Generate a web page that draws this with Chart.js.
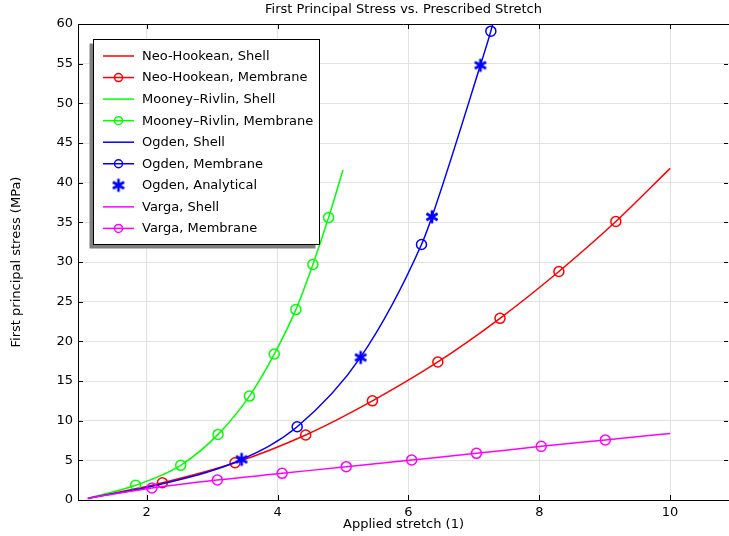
<!DOCTYPE html>
<html>
<head>
<meta charset="utf-8">
<title>First Principal Stress vs. Prescribed Stretch</title>
<script src="https://cdn.jsdelivr.net/npm/chart.js@4"></script>
<style>
  html, body { margin: 0; padding: 0; background: #fff; }
  #chart { display: block; }
</style>
</head>
<body>
<canvas id="chart" width="729" height="536"></canvas>
<script>
// values
const neoShellX = [1.1, 2.24, 3.35, 4.43, 5.45, 6.45, 7.40, 8.30, 9.17, 10];
const neoShellY = [0.2, 2.18, 4.7, 8.2, 12.5, 17.4, 22.9, 28.8, 35.1, 41.8];
const neoMemX = [2.24, 3.35, 4.43, 5.45, 6.45, 7.40, 8.30, 9.17];
const neoMemY = [2.18, 4.7, 8.2, 12.5, 17.4, 22.9, 28.8, 35.1];

const mrShellX = [1.1, 1.83, 2.52, 3.09, 3.57, 3.95, 4.28, 4.54, 4.78, 5.0];
const mrShellY = [0.2, 1.85, 4.37, 8.27, 13.1, 18.4, 24.0, 29.7, 35.6, 41.6];
const mrMemX = [1.83, 2.52, 3.09, 3.57, 3.95, 4.28, 4.54, 4.78];
const mrMemY = [1.85, 4.37, 8.27, 13.1, 18.4, 24.0, 29.7, 35.6];

const ogShellX = [1.1, 2.2, 3.45, 4.30, 5.27, 6.20, 6.36, 7.10, 7.26, 7.32];
const ogShellY = [0.2, 1.95, 5.1, 9.23, 18.0, 32.2, 35.7, 54.8, 59.1, 61];
const ogMemX = [4.30, 6.20, 7.26];
const ogMemY = [9.23, 32.2, 59.1];
const ogAnaX = [3.45, 5.27, 6.36, 7.10];
const ogAnaY = [5.12, 17.97, 35.7, 54.8];

const vaShellX = [1.1, 2.08, 3.08, 4.07, 5.05, 6.05, 7.04, 8.03, 9.01, 10];
const vaShellY = [0.2, 1.51, 2.52, 3.36, 4.2, 5.04, 5.88, 6.76, 7.56, 8.39];
const vaMemX = [2.08, 3.08, 4.07, 5.05, 6.05, 7.04, 8.03, 9.01];
const vaMemY = [1.51, 2.52, 3.36, 4.2, 5.04, 5.88, 6.76, 7.56];

const FONT = "'DejaVu Sans', Verdana, sans-serif";
const RED = "#ff0000", GREEN = "#00ff00", BLUE = "#0000ff", MAGENTA = "#ff00ff";

function pts(xs, ys) {
  return xs.map((x, i) => ({ x: x, y: ys[i] }));
}

// six-spoke asterisk marker
function makeStar(color, r, w) {
  const c = document.createElement("canvas");
  const s = Math.ceil(2 * r + w + 2);
  c.width = s;
  c.height = s;
  const g = c.getContext("2d");
  g.strokeStyle = color;
  g.lineWidth = w;
  g.translate(s / 2, s / 2);
  g.beginPath();
  for (let k = 0; k < 3; k++) {
    const a = Math.PI / 2 + k * Math.PI / 3;
    g.moveTo(r * Math.cos(a), r * Math.sin(a));
    g.lineTo(-r * Math.cos(a), -r * Math.sin(a));
  }
  g.stroke();
  return c;
}
const star = makeStar(BLUE, 6.5, 2.6);

function shell(label, xs, ys, color, order) {
  return {
    label: label,
    data: pts(xs, ys),
    borderColor: color,
    borderWidth: 1.5,
    pointRadius: 0,
    fill: false,
    cubicInterpolationMode: "monotone",
    order: order,
  };
}

function membrane(label, xs, ys, color, order) {
  return {
    label: label,
    data: pts(xs, ys),
    borderColor: color,
    backgroundColor: "rgba(0,0,0,0)",
    showLine: false,
    pointStyle: "circle",
    pointRadius: 5,
    pointBorderWidth: 1.5,
    pointBorderColor: color,
    pointBackgroundColor: "rgba(0,0,0,0)",
    order: order,
  };
}

const legendRows = [
  { text: "Neo-Hookean, Shell", color: RED, line: true, mark: null },
  { text: "Neo-Hookean, Membrane", color: RED, line: true, mark: "circle" },
  { text: "Mooney\u2013Rivlin, Shell", color: GREEN, line: true, mark: null },
  { text: "Mooney\u2013Rivlin, Membrane", color: GREEN, line: true, mark: "circle" },
  { text: "Ogden, Shell", color: BLUE, line: true, mark: null },
  { text: "Ogden, Membrane", color: BLUE, line: true, mark: "circle" },
  { text: "Ogden, Analytical", color: BLUE, line: false, mark: "star" },
  { text: "Varga, Shell", color: MAGENTA, line: true, mark: null },
  { text: "Varga, Membrane", color: MAGENTA, line: true, mark: "circle" },
];

// top frame line, inward ticks and title
const framePlugin = {
  id: "frame",
  afterDatasetsDraw(chart) {
    const { ctx, chartArea: a, scales } = chart;
    const x = scales.x, y = scales.y;
    ctx.save();
    ctx.strokeStyle = "#000";
    ctx.lineWidth = 1;
    ctx.beginPath();
    ctx.moveTo(a.left, a.top + 0.5);
    ctx.lineTo(a.right, a.top + 0.5);
    x.ticks.forEach((t) => {
      const px = Math.round(x.getPixelForValue(t.value)) + 0.5;
      ctx.moveTo(px, a.top);
      ctx.lineTo(px, a.top + 5);
      ctx.moveTo(px, a.bottom);
      ctx.lineTo(px, a.bottom - 5);
    });
    y.ticks.forEach((t) => {
      const py = Math.round(y.getPixelForValue(t.value)) + 0.5;
      ctx.moveTo(a.left, py);
      ctx.lineTo(a.left + 5, py);
      ctx.moveTo(a.right - 1, py);
      ctx.lineTo(a.right - 5, py);
    });
    ctx.stroke();

    ctx.fillStyle = "#000";
    ctx.font = "13px " + FONT;
    ctx.textAlign = "center";
    ctx.textBaseline = "middle";
    ctx.fillText("First Principal Stress vs. Prescribed Stretch", (a.left + a.right) / 2, 10);
    ctx.restore();
  },
};

const legendPlugin = {
  id: "boxLegend",
  afterDraw(chart) {
    const ctx = chart.ctx;
    const bx = 93.5, by = 39.5, bw = 226, bh = 205;
    ctx.save();
    ctx.fillStyle = "#808080";
    ctx.fillRect(bx - 4, by + 4, bw, bh);
    ctx.fillStyle = "#fff";
    ctx.fillRect(bx, by, bw, bh);
    ctx.strokeStyle = "#000";
    ctx.lineWidth = 1;
    ctx.strokeRect(bx, by, bw, bh);

    ctx.font = "13px " + FONT;
    ctx.textAlign = "left";
    ctx.textBaseline = "middle";
    legendRows.forEach((r, i) => {
      const cy = 56 + i * 21.55;
      if (r.line) {
        ctx.strokeStyle = r.color;
        ctx.lineWidth = 1.5;
        ctx.beginPath();
        ctx.moveTo(103, cy);
        ctx.lineTo(134, cy);
        ctx.stroke();
      }
      if (r.mark === "circle") {
        ctx.strokeStyle = r.color;
        ctx.lineWidth = 1.5;
        ctx.beginPath();
        ctx.arc(118.5, cy, 4, 0, Math.PI * 2);
        ctx.stroke();
      } else if (r.mark === "star") {
        ctx.drawImage(star, 118.5 - star.width / 2, cy - star.height / 2);
      }
      ctx.fillStyle = "#000";
      ctx.fillText(r.text, 142, cy + 0.5);
    });
    ctx.restore();
  },
};

const tickFont = { family: FONT, size: 13 };

new Chart(document.querySelector("#chart").getContext("2d"), {
  type: "line",
  data: {
    datasets: [
      shell("Neo-Hookean, Shell", neoShellX, neoShellY, RED, 9),
      membrane("Neo-Hookean, Membrane", neoMemX, neoMemY, RED, 8),
      shell("Mooney\u2013Rivlin, Shell", mrShellX, mrShellY, GREEN, 7),
      membrane("Mooney\u2013Rivlin, Membrane", mrMemX, mrMemY, GREEN, 6),
      shell("Ogden, Shell", ogShellX, ogShellY, BLUE, 5),
      membrane("Ogden, Membrane", ogMemX, ogMemY, BLUE, 4),
      {
        label: "Ogden, Analytical",
        data: pts(ogAnaX, ogAnaY),
        showLine: false,
        pointStyle: star,
        pointRadius: 6,
        borderColor: BLUE,
        order: 3,
      },
      shell("Varga, Shell", vaShellX, vaShellY, MAGENTA, 2),
      membrane("Varga, Membrane", vaMemX, vaMemY, MAGENTA, 1),
    ],
  },
  options: {
    responsive: false,
    animation: false,
    events: [],
    layout: { autoPadding: false, padding: { top: 24, left: 0, right: 0, bottom: 0 } },
    plugins: {
      legend: { display: false },
      tooltip: { enabled: false },
      title: { display: false },
    },
    scales: {
      x: {
        type: "linear",
        min: 0.95,
        max: 10.9,
        ticks: {
          stepSize: 2,
          includeBounds: false,
          padding: 5,
          maxRotation: 0,
          color: "#000",
          font: tickFont,
        },
        grid: { color: "#e2e2e2", drawTicks: false },
        border: { color: "#000", width: 1 },
        title: {
          display: true,
          text: "Applied stretch (1)",
          color: "#000",
          font: tickFont,
          padding: { top: 0, bottom: 4 },
        },
        afterFit(s) {
          s.height = 36;
          s.paddingLeft = 0;
          s.paddingRight = 0;
        },
      },
      y: {
        min: 0,
        max: 60,
        ticks: {
          stepSize: 5,
          padding: 5,
          color: "#000",
          font: tickFont,
        },
        grid: { color: "#e2e2e2", drawTicks: false },
        border: { color: "#000", width: 1 },
        title: {
          display: true,
          text: "First principal stress (MPa)",
          color: "#000",
          font: tickFont,
          padding: { top: 9, bottom: 0 },
        },
        afterFit(s) {
          s.width = 78;
          s.paddingTop = 0;
          s.paddingBottom = 0;
        },
      },
    },
  },
  plugins: [framePlugin, legendPlugin],
});
</script>
</body>
</html>
